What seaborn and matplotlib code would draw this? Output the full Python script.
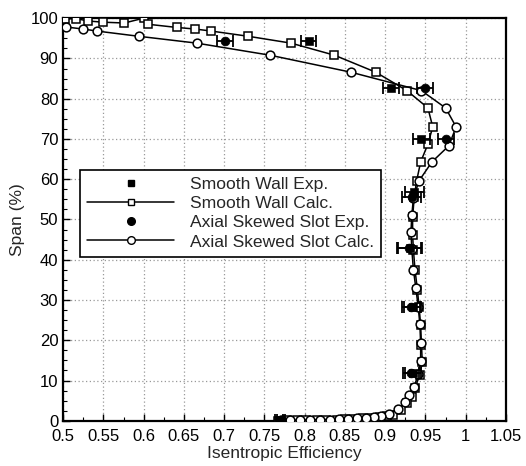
import numpy as np
import pandas as pd
import matplotlib
matplotlib.use("Agg")
import matplotlib.pyplot as plt
from matplotlib.lines import Line2D
from matplotlib.ticker import MultipleLocator, FormatStrFormatter, AutoMinorLocator
import seaborn as sns

# Smooth wall, calculated spanwise efficiency profile
sw_calc_eff = [0.502, 0.516, 0.531, 0.550, 0.576, 0.600, 0.605, 0.641, 0.664, 0.684,
               0.730, 0.783, 0.837, 0.888, 0.927, 0.953, 0.959, 0.953, 0.944, 0.939,
               0.936, 0.934, 0.934, 0.935, 0.937, 0.940, 0.942, 0.944, 0.945, 0.946,
               0.943, 0.937, 0.933, 0.927, 0.920, 0.910, 0.902, 0.893, 0.883, 0.872,
               0.861, 0.850, 0.840, 0.827, 0.815, 0.801, 0.790, 0.778, 0.767]
sw_calc_span = [99.8, 99.9, 99.3, 99.0, 98.8, 100.0, 98.5, 97.7, 97.3, 96.8,
                95.5, 93.8, 90.8, 86.6, 82.0, 77.7, 73.0, 68.7, 64.3, 59.6,
                55.5, 50.6, 46.2, 42.5, 37.5, 32.5, 28.3, 23.8, 18.9, 14.6,
                11.4, 8.2, 6.0, 4.5, 2.7, 1.5, 1.1, 0.9, 0.7, 0.6,
                0.5, 0.4, 0.3, 0.3, 0.2, 0.2, 0.1, 0.1, 0.0]

# Axial skewed slot, calculated spanwise efficiency profile
as_calc_eff = [0.504, 0.525, 0.542, 0.594, 0.666, 0.757, 0.857, 0.945, 0.975, 0.988,
               0.979, 0.958, 0.942, 0.935, 0.933, 0.932, 0.933, 0.935, 0.938, 0.941,
               0.943, 0.944, 0.944, 0.941, 0.936, 0.930, 0.924, 0.916, 0.905, 0.895,
               0.886, 0.876, 0.865, 0.854, 0.843, 0.831, 0.819, 0.806, 0.794, 0.782, 0.770]
as_calc_span = [97.8, 97.3, 96.8, 95.5, 93.8, 90.8, 86.6, 82.0, 77.7, 73.0,
                68.3, 64.3, 59.6, 55.3, 51.0, 47.0, 42.6, 37.5, 33.0, 28.2,
                24.0, 19.2, 14.8, 11.6, 8.5, 6.3, 4.6, 3.0, 1.8, 1.2,
                0.9, 0.7, 0.6, 0.5, 0.4, 0.3, 0.3, 0.2, 0.2, 0.1, 0.1]

# Measured efficiencies with uncertainty bands
sw_exp_eff = [0.805, 0.907, 0.945, 0.936, 0.931, 0.934, 0.934, 0.768]
sw_exp_span = [94.3, 82.7, 70.0, 56.8, 43.0, 28.3, 11.8, 0.3]
sw_exp_err = [0.009, 0.010, 0.010, 0.012, 0.015, 0.011, 0.010, 0.005]

as_exp_eff = [0.701, 0.949, 0.976, 0.933, 0.930, 0.932, 0.932, 0.770]
as_exp_span = [94.3, 82.7, 70.0, 55.5, 43.0, 28.3, 11.8, 0.3]
as_exp_err = [0.010, 0.010, 0.010, 0.012, 0.015, 0.011, 0.010, 0.005]

labels = ["Smooth Wall Exp.", "Smooth Wall Calc.",
          "Axial Skewed Slot Exp.", "Axial Skewed Slot Calc."]

sns.set_theme(style="white")
plt.rcParams["font.family"] = ["Liberation Sans", "DejaVu Sans"]

fig = plt.figure(figsize=(5.26, 4.66), dpi=100)
ax = fig.add_axes([0.12, 0.097, 0.842, 0.864])

sw_calc = pd.DataFrame({"eff": sw_calc_eff, "span": sw_calc_span})
as_calc = pd.DataFrame({"eff": as_calc_eff, "span": as_calc_span})

sns.lineplot(data=sw_calc, x="eff", y="span", sort=False, estimator=None,
             color="black", lw=1.1, marker="s", markersize=5.5,
             markerfacecolor="white", markeredgecolor="black",
             markeredgewidth=1.1, ax=ax, zorder=3)
sns.lineplot(data=as_calc, x="eff", y="span", sort=False, estimator=None,
             color="black", lw=1.1, marker="o", markersize=6.3,
             markerfacecolor="white", markeredgecolor="black",
             markeredgewidth=1.1, ax=ax, zorder=3)

ax.errorbar(sw_exp_eff, sw_exp_span, xerr=sw_exp_err, fmt="none",
            ecolor="black", elinewidth=1.3, capsize=4.5, capthick=1.3, zorder=4)
ax.errorbar(as_exp_eff, as_exp_span, xerr=as_exp_err, fmt="none",
            ecolor="black", elinewidth=1.3, capsize=4.5, capthick=1.3, zorder=4)
sns.scatterplot(x=sw_exp_eff, y=sw_exp_span, marker="s", s=30,
                color="black", edgecolor="black", ax=ax, zorder=5)
sns.scatterplot(x=as_exp_eff, y=as_exp_span, marker="o", s=40,
                color="black", edgecolor="black", ax=ax, zorder=5)

ax.set_xlim(0.5, 1.05)
ax.set_ylim(0, 100)
ax.xaxis.set_major_locator(MultipleLocator(0.05))
ax.yaxis.set_major_locator(MultipleLocator(10))
ax.xaxis.set_minor_locator(AutoMinorLocator(2))
ax.yaxis.set_minor_locator(AutoMinorLocator(4))
ax.xaxis.set_major_formatter(FormatStrFormatter("%g"))
ax.tick_params(axis="both", which="both", direction="in", colors="black",
               labelsize=12, bottom=True, left=True)
ax.tick_params(axis="both", which="major", length=5, width=1)
ax.tick_params(axis="both", which="minor", length=3, width=0.8)
ax.tick_params(axis="x", pad=6)

ax.grid(True, which="major", color="#999999", linestyle=(0, (1, 2)), lw=0.9)
for sp in ax.spines.values():
    sp.set_color("black")
    sp.set_linewidth(1.6)

ax.set_xlabel("Isentropic Efficiency", fontsize=12.5, labelpad=1)
ax.set_ylabel("Span (%)", fontsize=12.5, labelpad=4)

handles = [
    Line2D([], [], ls="none", marker="s", markersize=5, color="black"),
    Line2D([], [], color="black", lw=1.1, marker="s", markersize=5,
           markerfacecolor="white", markeredgecolor="black"),
    Line2D([], [], ls="none", marker="o", markersize=5.5, color="black"),
    Line2D([], [], color="black", lw=1.1, marker="o", markersize=5.5,
           markerfacecolor="white", markeredgecolor="black"),
]
leg = ax.legend(handles, labels, loc="upper left", bbox_to_anchor=(0.038, 0.623),
                fontsize=12.6, frameon=True, fancybox=False, handlelength=5.0,
                handletextpad=0.9, labelspacing=0.22, borderpad=0.4,
                borderaxespad=0)
leg.get_frame().set_edgecolor("black")
leg.get_frame().set_linewidth(1.2)
leg.get_frame().set_alpha(1)

fig.savefig("out.png", dpi=100)
